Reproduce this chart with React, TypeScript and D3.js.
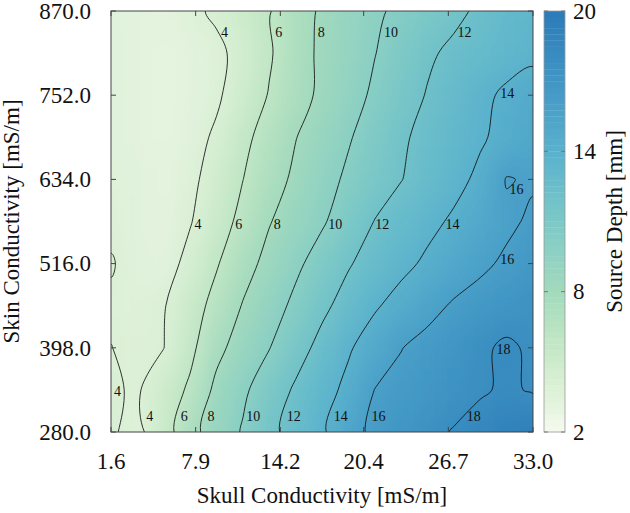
import React from "react";
import * as d3 from "d3";

// ---------- data ----------
const skullTicks = [1.6, 7.9, 14.2, 20.4, 26.7, 33.0];
const skinTicks = [280, 398, 516, 634, 752, 870];
const depthTicks = [2, 8, 14, 20];
const contourLevels = [4, 6, 8, 10, 12, 14, 16, 18];

// grid columns: skull conductivity (mS/m)
const skullGrid = [1.6, 3.56, 5.53, 7.49, 9.45, 11.41, 13.38, 15.34, 17.3, 19.26, 21.23, 23.19, 25.15, 27.11, 29.08, 31.04, 33.0];
// grid rows: skin conductivity (mS/m), top to bottom
const skinGrid = [870, 811, 752, 693, 634, 575, 516, 457, 398, 339, 280];

// source depth (mm) per row
const depthAt870 = [3.4, 3.3, 3.2, 3.6, 4.3, 5.1, 5.9, 7.2, 8.25, 9.0, 9.7, 10.4, 11.0, 11.6, 12.3, 13.0, 13.4];
const depthAt811 = [3.5, 3.3, 3.1, 3.3, 3.6, 4.6, 5.8, 7.2, 8.35, 9.1, 9.95, 10.85, 11.75, 12.35, 12.8, 13.3, 13.6];
const depthAt752 = [3.5, 3.3, 3.1, 3.3, 3.75, 4.9, 6.1, 7.3, 8.35, 9.3, 10.3, 11.25, 12.1, 12.85, 13.6, 14.3, 14.85];
const depthAt693 = [3.5, 3.3, 3.1, 3.4, 4.25, 5.55, 6.75, 7.95, 8.9, 9.85, 10.8, 11.75, 12.5, 13.15, 13.8, 14.5, 15.1];
const depthAt634 = [3.6, 3.4, 3.2, 3.6, 4.75, 5.98, 7.2, 8.35, 9.35, 10.3, 11.15, 11.95, 12.75, 13.5, 14.35, 16.1, 15.8];
const depthAt575 = [3.7, 3.4, 3.2, 3.9, 5.15, 6.5, 7.9, 8.9, 9.8, 10.9, 12.05, 12.8, 13.55, 14.25, 14.95, 15.65, 16.3];
const depthAt516 = [4.1, 3.5, 3.3, 4.5, 5.85, 7.3, 8.55, 9.65, 10.75, 11.85, 12.75, 13.55, 14.3, 15.0, 15.65, 16.3, 16.8];
const depthAt457 = [3.8, 3.6, 3.9, 5.15, 6.6, 8.1, 9.2, 10.4, 11.6, 12.7, 13.8, 14.65, 15.45, 16.2, 16.7, 17.1, 17.4];
const depthAt398 = [4.02, 3.7, 3.98, 5.55, 7.5, 8.85, 9.95, 11.25, 12.55, 13.8, 14.9, 15.95, 16.55, 17.1, 17.7, 18.3, 17.7];
const depthAt339 = [4.15, 3.85, 4.95, 6.3, 8.45, 9.7, 10.95, 12.25, 13.3, 14.45, 16.03, 16.45, 16.9, 17.35, 17.8, 18.25, 17.85];
const depthAt280 = [4.15, 3.6, 5.1, 7.4, 8.9, 10.15, 11.55, 12.7, 13.75, 15.3, 16.4, 16.95, 17.55, 18.1, 18.7, 19.2, 19.55];

const depthGrid = [depthAt870, depthAt811, depthAt752, depthAt693, depthAt634, depthAt575, depthAt516, depthAt457, depthAt398, depthAt339, depthAt280];

// contour label placement: level, skin conductivity row where the label sits, which crossing
const labelLevels = [4, 6, 8, 10, 12, 14, 4, 6, 8, 10, 12, 14, 16, 4, 6, 8, 10, 12, 14, 16, 18, 4, 18, 16];
const labelSkins = [840, 840, 840, 840, 840, 755, 571, 571, 571, 571, 571, 571, 522, 302, 302, 302, 302, 302, 302, 302, 302, 338, 396, 621];
const labelPicks = [0, 0, 0, 0, 0, 0, 0, 0, 0, 0, 0, 0, 0, 1, 0, 0, 0, 0, 0, 0, 0, 0, 0, 0];
const labelSides = ["r", "r", "r", "r", "r", "r", "r", "r", "r", "r", "r", "r", "r", "r", "r", "r", "r", "r", "r", "r", "r", "l", "r", "r"];

// colour map (GnBu-like)
const colorStops = [2, 3, 4, 5, 6, 7, 8, 10, 12, 14, 16, 18, 20];
const colorValues = ["#f5fbef", "#e6f4e0", "#daf0d5", "#cdebcc", "#bfe6c4", "#b0e0c0", "#a3dabd", "#89cfc4", "#6fc1c9", "#59b1cd", "#499fc8", "#398dc0", "#2b7bb8"];

// ---------- layout ----------
const W = 630, H = 513;
const PL = 111, PT = 11, PR = 533, PB = 432;
const CBL = 544, CBR = 565;
const FONT = "'Liberation Serif', 'Times New Roman', serif";

export default function App() {
  const x = d3.scaleLinear().domain([1.6, 33]).range([PL, PR]);
  const y = d3.scaleLinear().domain([280, 870]).range([PB, PT]);
  const color = d3.scaleLinear<string>().domain(colorStops).range(colorValues).interpolate(d3.interpolateRgb).clamp(true);
  const cy = d3.scaleLinear().domain([2, 20]).range([PB, PT]);

  const n = skullGrid.length, m = skinGrid.length;
  const values = depthGrid.flat();
  const contours = d3.contours().size([n, m]).thresholds(contourLevels)(values);
  const gx = d3.scaleLinear().domain([0.5, n - 0.5]).range([x(skullGrid[0]), x(skullGrid[n - 1])]);
  const gy = d3.scaleLinear().domain([0.5, m - 0.5]).range([y(skinGrid[0]), y(skinGrid[m - 1])]);
  const ringLine = d3.line<[number, number]>().curve(d3.curveCatmullRomClosed.alpha(0.5));

  const contourPath = (c: any) =>
    c.coordinates
      .map((poly: number[][][]) =>
        poly
          .map((ring) => {
            const pts = ring.slice(0, -1).map((p) => [gx(p[0]), gy(p[1])] as [number, number]);
            return ringLine(pts) || "";
          })
          .join("")
      )
      .join("");

  // heatmap cells
  const cells: { x0: number; x1: number; y0: number; y1: number; c: string; k: string }[] = [];
  depthGrid.forEach((row, j) => {
    row.forEach((v, i) => {
      const cx = x(skullGrid[i]);
      const cyy = y(skinGrid[j]);
      const x0 = i === 0 ? cx - 45 : (cx + x(skullGrid[i - 1])) / 2;
      const x1 = i === n - 1 ? cx + 45 : (cx + x(skullGrid[i + 1])) / 2;
      const y0 = j === 0 ? cyy - 50 : (cyy + y(skinGrid[j - 1])) / 2;
      const y1 = j === m - 1 ? cyy + 50 : (cyy + y(skinGrid[j + 1])) / 2;
      cells.push({ x0, x1, y0, y1, c: color(v), k: `${i}-${j}` });
    });
  });

  // contour labels
  const labels = labelLevels
    .map((lev, idx) => {
      const ty = y(labelSkins[idx]);
      const cont = contours.find((c) => c.value === lev);
      const xs: number[] = [];
      if (cont) {
        cont.coordinates.forEach((poly) =>
          poly.forEach((ring) => {
            for (let k = 0; k < ring.length - 1; k++) {
              const ax = gx(ring[k][0]), ay = gy(ring[k][1]);
              const bx = gx(ring[k + 1][0]), by = gy(ring[k + 1][1]);
              if (ay === by) continue;
              if ((ay - ty) * (by - ty) <= 0) {
                const t = (ty - ay) / (by - ay);
                const xx = ax + t * (bx - ax);
                if (xx > PL + 1 && xx < PR - 1) xs.push(xx);
              }
            }
          })
        );
      }
      xs.sort((a, b) => a - b);
      const uniq = xs.filter((v, i) => i === 0 || Math.abs(v - xs[i - 1]) > 2);
      const cx = uniq[Math.min(labelPicks[idx], uniq.length - 1)];
      return { lev, x: cx, y: ty, side: labelSides[idx], key: idx };
    })
    .filter((l) => l.x !== undefined);

  const cbarSteps = d3.range(2, 20, 0.25);

  return (
    <svg width={W} height={H} style={{ position: "absolute", left: 0, top: 0, background: "#fff" }} fontFamily={FONT}>
      <defs>
        <clipPath id="plotClip">
          <rect x={PL} y={PT} width={PR - PL} height={PB - PT} />
        </clipPath>
        <filter id="smooth" filterUnits="userSpaceOnUse" x={40} y={-60} width={560} height={600}>
          <feGaussianBlur stdDeviation="10 15" />
        </filter>
      </defs>

      <g clipPath="url(#plotClip)">
        <g filter="url(#smooth)">
          {cells.map((c) => (
            <rect key={c.k} x={c.x0} y={c.y0} width={c.x1 - c.x0 + 0.5} height={c.y1 - c.y0 + 0.5} fill={c.c} />
          ))}
        </g>
        {contours.map((c) => (
          <path key={c.value} d={contourPath(c)} fill="none" stroke="#111" strokeWidth={0.85} />
        ))}
        {labels.map((l) => (
          <text
            key={l.key}
            x={l.side === "r" ? l.x + 3 : l.x - 3}
            y={l.y}
            dy="0.35em"
            fontSize={14}
            textAnchor={l.side === "r" ? "start" : "end"}
            fill="#111"
          >
            {l.lev}
          </text>
        ))}
      </g>

      {/* frame */}
      <rect x={PL} y={PT} width={PR - PL} height={PB - PT} fill="none" stroke="#444" strokeWidth={1} />

      {/* x ticks */}
      {skullTicks.map((t) => (
        <g key={"xt" + t}>
          <line x1={x(t)} x2={x(t)} y1={PB} y2={PB - 5} stroke="#444" />
          <line x1={x(t)} x2={x(t)} y1={PT} y2={PT + 5} stroke="#444" />
          <text x={x(t)} y={469} fontSize={23} textAnchor="middle" fill="#111">
            {t.toFixed(1)}
          </text>
        </g>
      ))}

      {/* y ticks */}
      {skinTicks.map((t) => (
        <g key={"yt" + t}>
          <line x1={PL} x2={PL + 5} y1={y(t)} y2={y(t)} stroke="#444" />
          <line x1={PR} x2={PR - 5} y1={y(t)} y2={y(t)} stroke="#444" />
          <text x={91} y={y(t)} dy="0.34em" fontSize={23} textAnchor="end" fill="#111">
            {t.toFixed(1)}
          </text>
        </g>
      ))}

      <text x={(PL + PR) / 2} y={503} fontSize={23} textAnchor="middle" fill="#111">
        Skull Conductivity [mS/m]
      </text>
      <text transform={`translate(19,${(PT + PB) / 2}) rotate(-90)`} fontSize={23} textAnchor="middle" fill="#111">
        Skin Conductivity [mS/m]
      </text>

      {/* colorbar */}
      <g>
        {cbarSteps.map((v) => (
          <rect key={"cb" + v} x={CBL} y={cy(v + 0.25)} width={CBR - CBL} height={cy(v) - cy(v + 0.25) + 0.3} fill={color(v + 0.125)} />
        ))}
        <rect x={CBL} y={PT} width={CBR - CBL} height={PB - PT} fill="none" stroke="#999" strokeWidth={0.8} />
        {depthTicks.map((t) => (
          <g key={"ct" + t}>
            <line x1={CBL} x2={CBL + 4} y1={cy(t)} y2={cy(t)} stroke="#666" strokeWidth={0.8} />
            <line x1={CBR} x2={CBR - 4} y1={cy(t)} y2={cy(t)} stroke="#666" strokeWidth={0.8} />
            <text x={573} y={cy(t)} dy="0.34em" fontSize={23} fill="#111">
              {t}
            </text>
          </g>
        ))}
        <text transform={`translate(622,${(PT + PB) / 2}) rotate(-90)`} fontSize={23} textAnchor="middle" fill="#111">
          Source Depth [mm]
        </text>
      </g>
    </svg>
  );
}
